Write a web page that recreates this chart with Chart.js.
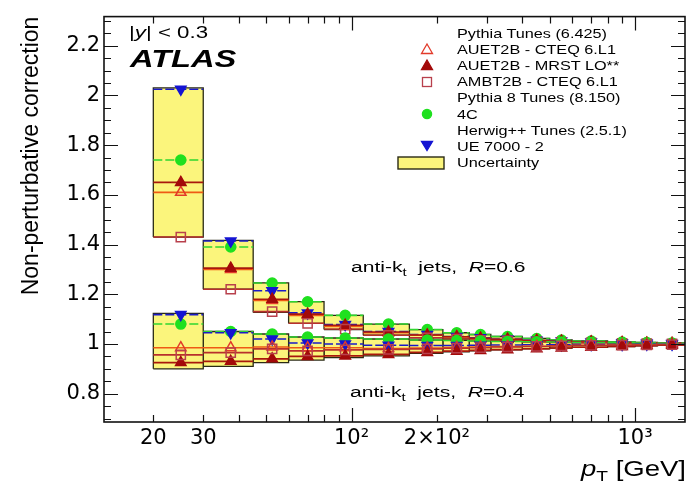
<!DOCTYPE html>
<html>
<head>
<meta charset="utf-8">
<script src="https://cdn.jsdelivr.net/npm/chart.js@4.4.1/dist/chart.umd.min.js"></script>
<style>
  html, body { margin: 0; padding: 0; background: #fff; }
  #wrap { position: relative; width: 694px; height: 482px; overflow: hidden; }
  #wrap canvas { position: absolute; left: 0; top: 0; }
  .txt { position: absolute; white-space: nowrap; font-family: "Liberation Sans", Arial, sans-serif; color: #000; line-height: 1; transform-origin: 0 50%; }
  .txt sub { font-size: 0.7em; vertical-align: -0.35em; line-height: 0; }
  .leg { position: absolute; left: 0; top: 0; }
  .leg svg { position: absolute; overflow: visible; }
</style>
</head>
<body>
<div id="wrap">
  <canvas id="npc" width="694" height="482"></canvas>
  <div class="txt" style="left:129px; top:24px; font-size:16.5px; transform:scaleX(1.35);">|<i>y</i>| &lt; 0.3</div>
  <div class="txt" style="left:130px; top:47px; font-size:24px; font-weight:bold; font-style:italic; transform:scaleX(1.36);">ATLAS</div>
  <div class="txt" style="left:351px; top:259px; font-size:15.5px; transform:scaleX(1.36);">anti-k<sub>t</sub>&nbsp; jets,&nbsp; <i>R</i>=0.6</div>
  <div class="txt" style="left:350px; top:384px; font-size:15.5px; transform:scaleX(1.36);">anti-k<sub>t</sub>&nbsp; jets,&nbsp; <i>R</i>=0.4</div>
  <div class="txt" style="right:8px; top:458px; font-size:22px; transform:scaleX(1.25); transform-origin:100% 50%;"><i>p</i><sub>T</sub> [GeV]</div>
  <div class="leg" id="legend"></div>
</div>
<script>
// pT bin edges in GeV
const binEdges = [20, 30, 45, 60, 80, 110, 160, 210, 260, 310, 400, 500, 600, 800, 1000, 1200, 1500];

// anti-kt R = 0.6
const r06BandLow  = [1.43, 1.22, 1.127, 1.083, 1.058, 1.035, 1.025, 1.02, 1.015, 1.012, 1.008, 1.006, 1.004, 1.002, 1.001, 1.0];
const r06BandHigh = [2.03, 1.417, 1.246, 1.17, 1.115, 1.08, 1.058, 1.045, 1.038, 1.03, 1.022, 1.016, 1.012, 1.008, 1.006, 1.004];
const r06AuetCteq = [1.61, 1.30, 1.175, 1.115, 1.07, 1.045, 1.035, 1.028, 1.022, 1.018, 1.013, 1.01, 1.007, 1.005, 1.003, 1.002];
const r06AuetMrst = [1.65, 1.305, 1.18, 1.12, 1.075, 1.048, 1.036, 1.029, 1.023, 1.019, 1.014, 1.011, 1.008, 1.005, 1.003, 1.002];
const r06AmbtCteq = [1.43, 1.22, 1.13, 1.083, 1.06, 1.035, 1.025, 1.02, 1.015, 1.012, 1.008, 1.006, 1.004, 1.002, 1.001, 1.0];
const r06Py8_4C   = [1.74, 1.39, 1.245, 1.17, 1.115, 1.08, 1.058, 1.045, 1.038, 1.03, 1.022, 1.016, 1.012, 1.008, 1.006, 1.004];
const r06Ue7000   = [2.025, 1.414, 1.214, 1.125, 1.078, 1.05, 1.038, 1.03, 1.025, 1.02, 1.015, 1.012, 1.008, 1.005, 1.004, 1.002];

// anti-kt R = 0.4
const r04BandLow  = [0.90, 0.91, 0.925, 0.935, 0.945, 0.952, 0.962, 0.968, 0.972, 0.976, 0.98, 0.983, 0.986, 0.989, 0.992, 0.994];
const r04BandHigh = [1.123, 1.05, 1.04, 1.028, 1.024, 1.02, 1.016, 1.014, 1.012, 1.01, 1.009, 1.008, 1.006, 1.005, 1.004, 1.003];
const r04AuetCteq = [0.985, 0.985, 0.988, 0.985, 0.985, 0.982, 0.984, 0.986, 0.988, 0.99, 0.991, 0.993, 0.995, 0.996, 0.997, 0.998];
const r04AuetMrst = [0.925, 0.93, 0.94, 0.95, 0.952, 0.958, 0.966, 0.971, 0.974, 0.977, 0.981, 0.984, 0.987, 0.99, 0.993, 0.995];
const r04AmbtCteq = [0.956, 0.965, 0.98, 0.972, 0.976, 0.978, 0.98, 0.983, 0.985, 0.988, 0.99, 0.992, 0.994, 0.995, 0.996, 0.997];
const r04Py8_4C   = [1.08, 1.05, 1.04, 1.028, 1.024, 1.02, 1.016, 1.014, 1.012, 1.01, 1.009, 1.008, 1.006, 1.005, 1.004, 1.003];
const r04Ue7000   = [1.118, 1.045, 1.02, 1.004, 1.0, 0.995, 0.994, 0.994, 0.995, 0.996, 0.997, 0.997, 0.998, 0.998, 0.999, 0.999];

const xTickValues = [20, 30, 100, 200, 1000];
const xTickLabels = ['20', '30', '10\u00b2', '2\u00d710\u00b2', '10\u00b3'];
const yTickValues = [0.8, 1, 1.2, 1.4, 1.6, 1.8, 2, 2.2];
const yTickLabels = ['0.8', '1', '1.2', '1.4', '1.6', '1.8', '2', '2.2'];

const legendLabels = ['Pythia Tunes (6.425)', 'AUET2B - CTEQ 6.L1', 'AUET2B - MRST LO**', 'AMBT2B - CTEQ 6.L1',
  'Pythia 8 Tunes (8.150)', '4C', 'Herwig++ Tunes (2.5.1)', 'UE 7000 - 2', 'Uncertainty'];
const legendMarks = [null, 'openTri', 'fillTri', 'openSq', null, 'circle', null, 'downTri', 'box'];

const BAND_FILL = '#fbf57c';
const BAND_EDGE = '#2a2a14';

// marker / line style per tune
const tuneStyle = {
  openTri: { color: '#e23a2a', line: '#ee5a14', pointStyle: 'triangle', rotation: 0, radius: 6, filled: false, dash: [] },
  fillTri: { color: '#a30a0a', line: '#a8180c', pointStyle: 'triangle', rotation: 0, radius: 6, filled: true, dash: [] },
  openSq:  { color: '#b8404c', line: '#b8302c', pointStyle: 'rect', rotation: 0, radius: 6.5, filled: false, dash: [] },
  circle:  { color: '#1fe01f', line: '#2fd62f', pointStyle: 'circle', rotation: 0, radius: 5, filled: true, dash: [9, 3] },
  downTri: { color: '#1414d2', line: '#1a1ac8', pointStyle: 'triangle', rotation: 180, radius: 6, filled: true, dash: [9, 3] }
};

const binCenter = i => (binEdges[i] + binEdges[i + 1]) / 2;

const datasets = [];

function addBand(low, high) {
  low.forEach((lo, i) => {
    const a = binEdges[i], b = binEdges[i + 1];
    datasets.push({
      data: [{ x: a, y: lo }, { x: a, y: high[i] }, { x: b, y: high[i] }, { x: b, y: lo }, { x: a, y: lo }],
      borderColor: BAND_EDGE,
      borderWidth: 1.3,
      backgroundColor: BAND_FILL,
      fill: 'shape',
      pointRadius: 0,
      tension: 0,
      order: 30
    });
  });
}

function addTune(values, key) {
  const st = tuneStyle[key];
  const seg = [];
  values.forEach((v, i) => {
    seg.push({ x: binEdges[i], y: v }, { x: binEdges[i + 1], y: v }, { x: binEdges[i + 1], y: null });
  });
  datasets.push({
    data: seg,
    borderColor: st.line,
    borderWidth: 1.6,
    borderDash: st.dash,
    pointRadius: 0,
    fill: false,
    spanGaps: false,
    order: 10
  });
  datasets.push({
    data: values.map((v, i) => ({ x: binCenter(i), y: v })),
    showLine: false,
    pointStyle: st.pointStyle,
    pointRotation: st.rotation,
    pointRadius: st.radius,
    pointBorderWidth: 1.5,
    pointBorderColor: st.color,
    pointBackgroundColor: st.filled ? st.color : 'rgba(0,0,0,0)',
    order: 1
  });
}

addBand(r04BandLow, r04BandHigh);
addBand(r06BandLow, r06BandHigh);
[[r04AmbtCteq, 'openSq'], [r04AuetMrst, 'fillTri'], [r04AuetCteq, 'openTri'], [r04Ue7000, 'downTri'], [r04Py8_4C, 'circle'],
 [r06AmbtCteq, 'openSq'], [r06AuetMrst, 'fillTri'], [r06AuetCteq, 'openTri'], [r06Ue7000, 'downTri'], [r06Py8_4C, 'circle']]
  .forEach(([vals, key]) => addTune(vals, key));

// frame with inward tick marks on all four sides
const frameTicks = {
  id: 'frameTicks',
  afterDatasetsDraw(chart) {
    const { ctx, chartArea: a, scales: { x, y } } = chart;
    ctx.save();
    ctx.strokeStyle = '#111';
    ctx.lineWidth = 1.2;
    ctx.beginPath();
    for (let dec = 10; dec <= 1000; dec *= 10) {
      for (let m = 1; m <= 9; m++) {
        const v = m * dec;
        if (v < x.min || v > x.max) continue;
        const px = Math.round(x.getPixelForValue(v)) + 0.5;
        const len = m === 1 ? 14 : 7;
        ctx.moveTo(px, a.bottom); ctx.lineTo(px, a.bottom - len);
        ctx.moveTo(px, a.top); ctx.lineTo(px, a.top + len);
      }
    }
    for (let k = 14; k <= 46; k++) {
      const v = k * 0.05;
      if (v < y.min || v > y.max) continue;
      const py = Math.round(y.getPixelForValue(v)) + 0.5;
      const len = k % 4 === 0 ? 14 : 7;
      ctx.moveTo(a.left, py); ctx.lineTo(a.left + len, py);
      ctx.moveTo(a.right, py); ctx.lineTo(a.right - len, py);
    }
    ctx.stroke();
    ctx.lineWidth = 1.6;
    ctx.strokeRect(a.left, a.top, a.right - a.left, a.bottom - a.top);
    ctx.restore();
  }
};

new Chart(document.getElementById('npc'), {
  type: 'line',
  data: { datasets },
  options: {
    responsive: false,
    animation: false,
    devicePixelRatio: 1,
    layout: { padding: { top: 11, right: 9, left: 0, bottom: 0 } },
    plugins: { legend: { display: false }, tooltip: { enabled: false } },
    scales: {
      x: {
        type: 'logarithmic',
        min: 13.4,
        max: 1500,
        grid: { display: false, drawTicks: false },
        border: { display: false },
        afterBuildTicks: s => { s.ticks = xTickValues.map(v => ({ value: v })); },
        afterFit: s => { s.height = 60; },
        ticks: {
          autoSkip: false, maxRotation: 0, padding: 4, color: '#000',
          font: { family: 'DejaVu Sans', size: 21 },
          callback: (v, i) => xTickLabels[i]
        }
      },
      y: {
        type: 'linear',
        min: 0.686,
        max: 2.317,
        grid: { display: false, drawTicks: false },
        border: { display: false },
        afterBuildTicks: s => { s.ticks = yTickValues.map(v => ({ value: v })); },
        afterFit: s => { s.width = 104; },
        ticks: {
          padding: 4, color: '#000',
          font: { family: 'DejaVu Sans', size: 21 },
          callback: (v, i) => yTickLabels[i]
        },
        title: {
          display: true,
          text: 'Non-perturbative correction',
          align: 'end',
          color: '#000',
          font: { family: 'Liberation Sans', size: 23 },
          padding: { top: 18, bottom: 0 }
        }
      }
    }
  },
  plugins: [frameTicks]
});

// legend block, upper right
const legend = document.getElementById('legend');
const rowTop = 33, rowStep = 16.2, markX = 427, textX = 457;
legendLabels.forEach((label, i) => {
  const cy = rowTop + i * rowStep;
  const t = document.createElement('div');
  t.className = 'txt';
  t.style.cssText = `left:${textX}px; top:${cy - 6.5}px; font-size:13px; transform:scaleX(1.25);`;
  t.textContent = label;
  legend.appendChild(t);
  const mark = legendMarks[i];
  if (!mark) return;
  const svgNS = 'http://www.w3.org/2000/svg';
  const svg = document.createElementNS(svgNS, 'svg');
  let el;
  if (mark === 'box') {
    svg.setAttribute('width', 48); svg.setAttribute('height', 14);
    svg.style.left = '397px'; svg.style.top = (cy - 7) + 'px';
    el = document.createElementNS(svgNS, 'rect');
    el.setAttribute('x', 1); el.setAttribute('y', 1); el.setAttribute('width', 46); el.setAttribute('height', 12);
    el.setAttribute('fill', BAND_FILL); el.setAttribute('stroke', BAND_EDGE); el.setAttribute('stroke-width', 1.4);
  } else {
    const st = tuneStyle[mark];
    svg.setAttribute('width', 14); svg.setAttribute('height', 14);
    svg.style.left = (markX - 7) + 'px'; svg.style.top = (cy - 7) + 'px';
    if (mark === 'circle') {
      el = document.createElementNS(svgNS, 'circle');
      el.setAttribute('cx', 7); el.setAttribute('cy', 7); el.setAttribute('r', 4.6);
    } else if (mark === 'openSq') {
      el = document.createElementNS(svgNS, 'rect');
      el.setAttribute('x', 2.5); el.setAttribute('y', 2.5); el.setAttribute('width', 9); el.setAttribute('height', 9);
    } else {
      el = document.createElementNS(svgNS, 'polygon');
      el.setAttribute('points', mark === 'downTri' ? '1.5,2.5 12.5,2.5 7,11.5' : '7,2 12.5,11.5 1.5,11.5');
    }
    el.setAttribute('fill', st.filled ? st.color : 'none');
    el.setAttribute('stroke', st.color);
    el.setAttribute('stroke-width', 1.3);
  }
  svg.appendChild(el);
  legend.appendChild(svg);
});
</script>
</body>
</html>
